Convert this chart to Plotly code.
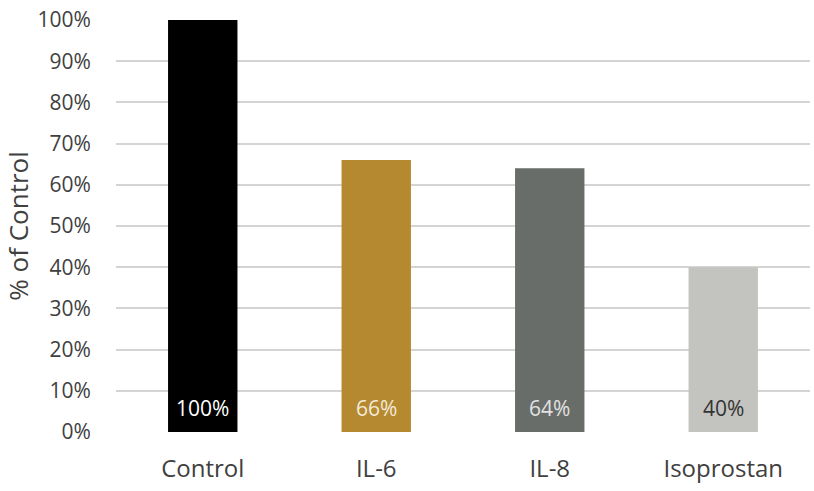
import plotly.graph_objects as go

categories = ["Control", "IL-6", "IL-8", "Isoprostan"]
values = [100, 66, 64, 40]
labels = ["100%", "66%", "64%", "40%"]
bar_colors = ["#000000", "#b5892f", "#686d6a", "#c3c3bf"]
label_colors = ["#ffffff", "#f3ead8", "#e2e2e2", "#333333"]
tick_vals = list(range(0, 101, 10))
tick_text = [f"{v}%" for v in tick_vals]

fig = go.Figure()
fig.add_trace(go.Bar(x=categories, y=values, marker=dict(color=bar_colors, line=dict(width=0)),
                     hoverinfo="skip"))

for c, lab, col in zip(categories, labels, label_colors):
    fig.add_annotation(x=c, y=0, text=lab, showarrow=False, yanchor="bottom", yshift=8,
                       font=dict(family="Open Sans", size=21, color=col))

fig.update_layout(
    width=814, height=491,
    margin=dict(l=116, r=4, t=20, b=59),
    plot_bgcolor="white", paper_bgcolor="white",
    bargap=0.6, showlegend=False,
    font=dict(family="Open Sans", color="#404040"),
)
fig.update_yaxes(range=[0, 100], tickvals=tick_vals, ticktext=tick_text,
                 showgrid=True, gridcolor="#d4d4d4", gridwidth=1.5,
                 zeroline=False, showline=False,
                 tickfont=dict(size=21, color="#404040"),
                 ticks="outside", ticklen=20, tickcolor="rgba(0,0,0,0)",
                 title=dict(text="% of Control", font=dict(size=26, color="#404040"), standoff=10))
fig.update_xaxes(showgrid=False, showline=False, zeroline=False,
                 tickfont=dict(size=24, color="#404040"),
                 ticks="outside", ticklen=15, tickcolor="rgba(0,0,0,0)")

fig.write_html("out.html")
